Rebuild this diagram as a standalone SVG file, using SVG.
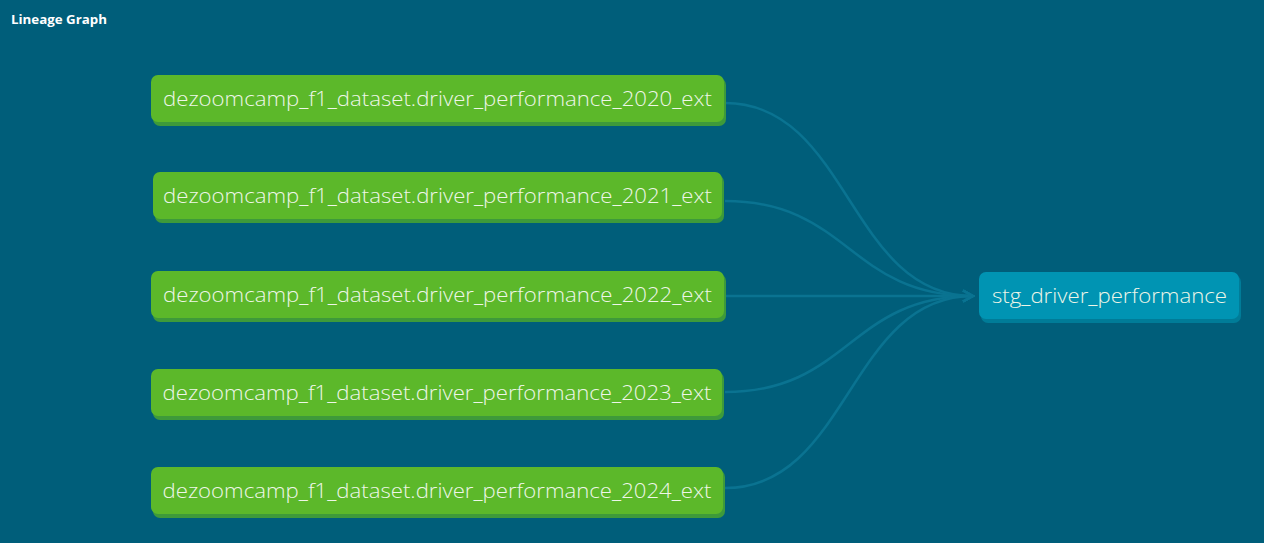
<svg xmlns="http://www.w3.org/2000/svg" width="1264" height="543" viewBox="0 0 1264 543">
<style>
.bg{fill:#005e7a}
.title{font-family:"Open Sans","Noto Sans",sans-serif;font-weight:bold;font-size:13px;fill:#ffffff}
.src .shadow{fill:#3e9a3a}
.src .box{fill:#5cb82a}
.tgt .shadow{fill:#007c98}
.tgt .box{fill:#0094b3}
.label{font-family:"Open Sans","Noto Sans",sans-serif;font-weight:300;font-size:21px;fill:#eef6e8;text-anchor:middle;dominant-baseline:central}
.edge{fill:none;stroke:#0a7391;stroke-width:2.5}
</style>
<defs>
<marker id="arrow" viewBox="0 0 14 14" refX="12" refY="7" markerWidth="14" markerHeight="14" markerUnits="userSpaceOnUse" orient="auto">
<path d="M2,1.5 L12,7 L2,12.5" fill="none" stroke="#0a7391" stroke-width="2.5"/>
</marker>
</defs>
<rect class="bg" x="0" y="0" width="1264" height="543"/>
<text class="title" x="11" y="24" textLength="96" lengthAdjust="spacingAndGlyphs">Lineage Graph</text>
<g id="connectors">
<path class="edge" d="M725,103 C849,103 849,296 973,296" marker-end="url(#arrow)"/>
<path class="edge" d="M725,201 C849,201 849,296 973,296" marker-end="url(#arrow)"/>
<path class="edge" d="M725,296 L973,296" stroke-width="3" marker-end="url(#arrow)"/>
<path class="edge" d="M725,392 C849,392 849,296 973,296" marker-end="url(#arrow)"/>
<path class="edge" d="M725,488 C849,488 849,296 973,296" marker-end="url(#arrow)"/>
</g>
<g id="node-2020" class="src">
<rect class="shadow" x="153" y="78" width="573" height="48" rx="7"/>
<rect class="box" x="151" y="75" width="573" height="47" rx="7"/>
<text class="label" x="437.5" y="98" textLength="549" lengthAdjust="spacingAndGlyphs">dezoomcamp_f1_dataset.driver_performance_2020_ext</text>
</g>
<g id="node-2021" class="src">
<rect class="shadow" x="155" y="175" width="569" height="48" rx="7"/>
<rect class="box" x="153" y="172" width="569" height="47" rx="7"/>
<text class="label" x="437.5" y="195" textLength="549" lengthAdjust="spacingAndGlyphs">dezoomcamp_f1_dataset.driver_performance_2021_ext</text>
</g>
<g id="node-2022" class="src">
<rect class="shadow" x="153" y="274" width="573" height="48" rx="7"/>
<rect class="box" x="151" y="271" width="573" height="47" rx="7"/>
<text class="label" x="437.5" y="294" textLength="549" lengthAdjust="spacingAndGlyphs">dezoomcamp_f1_dataset.driver_performance_2022_ext</text>
</g>
<g id="node-2023" class="src">
<rect class="shadow" x="153" y="372" width="571" height="48" rx="7"/>
<rect class="box" x="151" y="369" width="571" height="47" rx="7"/>
<text class="label" x="437" y="392" textLength="549" lengthAdjust="spacingAndGlyphs">dezoomcamp_f1_dataset.driver_performance_2023_ext</text>
</g>
<g id="node-2024" class="src">
<rect class="shadow" x="153" y="470" width="572" height="48" rx="7"/>
<rect class="box" x="151" y="467" width="572" height="47" rx="7"/>
<text class="label" x="437" y="490" textLength="549" lengthAdjust="spacingAndGlyphs">dezoomcamp_f1_dataset.driver_performance_2024_ext</text>
</g>
<g id="node-stg" class="tgt">
<rect class="shadow" x="981" y="275" width="260" height="48" rx="7"/>
<rect class="box" x="979" y="272" width="260" height="47" rx="7"/>
<text class="label" x="1109.5" y="295" textLength="235" lengthAdjust="spacingAndGlyphs">stg_driver_performance</text>
</g>
</svg>
